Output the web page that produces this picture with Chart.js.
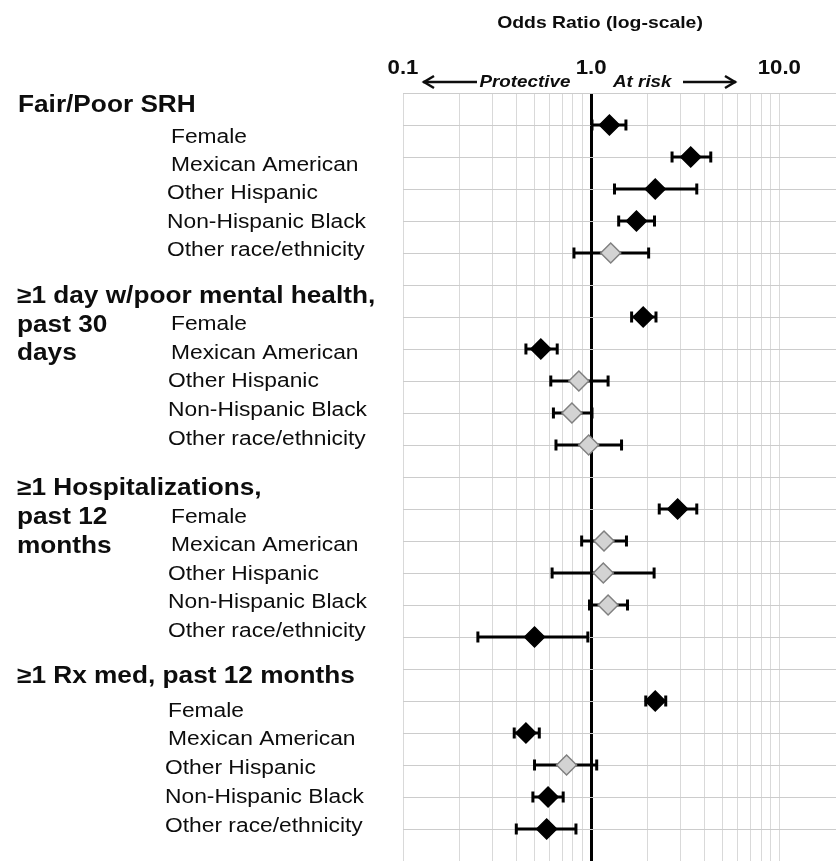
<!DOCTYPE html>
<html>
<head>
<meta charset="utf-8">
<script src="https://cdn.jsdelivr.net/npm/chart.js@4.4.1/dist/chart.umd.min.js"></script>
<style>
  html, body { margin: 0; padding: 0; background: #ffffff; }
  canvas { display: block; }
</style>
</head>
<body>
<canvas id="forest" width="836" height="861"></canvas>
<script>
// Outcomes (group headings, possibly split over several lines)
const groupTitles = [
  ["Fair/Poor SRH"],
  ["≥1 day w/poor mental health,", "past 30", "days"],
  ["≥1 Hospitalizations,", "past 12", "months"],
  ["≥1 Rx med, past 12 months"]
];
// Covariates shown under every outcome
const subgroups = ["Female", "Mexican American", "Other Hispanic", "Non-Hispanic Black", "Other race/ethnicity"];

// Odds ratios and 95% confidence limits, outcome by outcome
const oddsRatio = [1.25, 3.38, 2.19, 1.74, 1.27,
                   1.89, 0.54, 0.86, 0.79, 0.97,
                   2.88, 1.17, 1.16, 1.23, 0.50,
                   2.19, 0.45, 0.74, 0.59, 0.58];
const ciLow     = [1.01, 2.69, 1.33, 1.40, 0.81,
                   1.64, 0.45, 0.61, 0.63, 0.65,
                   2.30, 0.89, 0.62, 0.98, 0.25,
                   1.95, 0.39, 0.50, 0.49, 0.40];
const ciHigh    = [1.53, 4.32, 3.64, 2.17, 2.02,
                   2.21, 0.66, 1.23, 1.01, 1.45,
                   3.64, 1.54, 2.16, 1.56, 0.96,
                   2.49, 0.53, 1.07, 0.71, 0.83];

// Labelled ticks of the log axis
const tickValues = [0.1, 1, 10];
const tickLabels = ["0.1", "1.0", "10.0"];

// ---- layout of the drawing (not data) ----
const FONT = "'Liberation Sans', Arial, sans-serif";
const SX = 1.14;                 // horizontal text stretch
const ROWS_PER_GROUP = subgroups.length + 1;
const headerLayout = [
  { x: 18, baselines: [112] },
  { x: 17, baselines: [303, 332, 360] },
  { x: 17, baselines: [495, 523.5, 553] },
  { x: 17, baselines: [683] }
];
const subLayout = [
  { firstBaseline: 142.5, step: 28.4, xs: [171, 171, 167, 167, 167] },
  { firstBaseline: 330,   step: 28.7, xs: [171, 171, 168, 168, 168] },
  { firstBaseline: 523,   step: 28.4, xs: [171, 171, 168, 168, 168] },
  { firstBaseline: 716.5, step: 28.9, xs: [168, 168, 165, 165, 165] }
];

// row position of every estimate on the y axis (a blank row precedes each outcome)
const rowOf = i => Math.floor(i / subgroups.length) * ROWS_PER_GROUP + (i % subgroups.length) + 1;
const significant = i => !(ciLow[i] <= 1 && ciHigh[i] >= 1);

function stretchedText(ctx, s, x, y, font, align) {
  ctx.save();
  ctx.font = font;
  ctx.textAlign = align || 'left';
  ctx.textBaseline = 'alphabetic';
  ctx.fillStyle = '#0d0d0d';
  ctx.translate(x, y);
  ctx.scale(SX, 1);
  ctx.fillText(s, 0, 0);
  ctx.restore();
}

function arrow(ctx, x1, x2, y, headAtStart) {
  ctx.save();
  ctx.strokeStyle = '#0d0d0d';
  ctx.lineWidth = 2.5;
  ctx.lineCap = 'butt';
  ctx.beginPath();
  ctx.moveTo(x1, y);
  ctx.lineTo(x2, y);
  ctx.stroke();
  const tip = headAtStart ? x1 : x2;
  const dir = headAtStart ? 1 : -1;
  ctx.beginPath();
  ctx.moveTo(tip + dir * 11, y - 6);
  ctx.lineTo(tip + dir * 1, y);
  ctx.lineTo(tip + dir * 11, y + 6);
  ctx.stroke();
  ctx.restore();
}

const annotations = {
  id: 'forestText',
  afterDraw(chart) {
    const ctx = chart.ctx;
    const xs = chart.scales.x;

    // axis title and labelled ticks
    stretchedText(ctx, 'Odds Ratio (log-scale)', 600, 28, `bold 17px ${FONT}`, 'center');
    tickValues.forEach((v, i) => {
      stretchedText(ctx, tickLabels[i], xs.getPixelForValue(v), 74, `bold 19.5px ${FONT}`, 'center');
    });

    // direction hints
    arrow(ctx, 423, 477, 82, true);
    stretchedText(ctx, 'Protective', 479.5, 87, `italic bold 16.5px ${FONT}`, 'left');
    stretchedText(ctx, 'At risk', 613, 87, `italic bold 16.5px ${FONT}`, 'left');
    arrow(ctx, 683, 736, 82, false);

    // outcome headings and covariate names
    groupTitles.forEach((lines, g) => {
      const hl = headerLayout[g];
      lines.forEach((line, j) => {
        stretchedText(ctx, line, hl.x, hl.baselines[j], `bold 23px ${FONT}`, 'left');
      });
      const sl = subLayout[g];
      subgroups.forEach((name, k) => {
        stretchedText(ctx, name, sl.xs[k], sl.firstBaseline + k * sl.step, `20px ${FONT}`, 'left');
      });
    });
  }
};

// horizontal confidence-interval bars with end caps
const ciDatasets = oddsRatio.map((_, i) => ({
  type: 'line',
  data: [{ x: ciLow[i], y: rowOf(i) }, { x: ciHigh[i], y: rowOf(i) }],
  borderColor: '#000000',
  borderWidth: 3,
  tension: 0,
  pointStyle: 'line',
  pointRotation: 90,
  pointRadius: 5.5,
  pointBorderWidth: 3,
  pointBorderColor: '#000000',
  order: 2
}));

const pointDataset = {
  type: 'scatter',
  data: oddsRatio.map((v, i) => ({ x: v, y: rowOf(i) })),
  pointStyle: 'rectRot',
  pointRadius: 10,
  backgroundColor: oddsRatio.map((_, i) => significant(i) ? '#000000' : '#d3d3d3'),
  borderColor: oddsRatio.map((_, i) => significant(i) ? '#000000' : '#808080'),
  borderWidth: 1.5,
  order: 1
};

const nRows = groupTitles.length * ROWS_PER_GROUP;

new Chart(document.getElementById('forest'), {
  data: { datasets: [pointDataset, ...ciDatasets] },
  plugins: [annotations],
  options: {
    responsive: false,
    animation: false,
    events: [],
    layout: { autoPadding: false, padding: { left: 403, top: 93, right: 0, bottom: 0 } },
    plugins: { legend: { display: false }, tooltip: { enabled: false } },
    scales: {
      x: {
        type: 'logarithmic',
        position: 'top',
        min: 0.1,
        max: 20,
        afterBuildTicks(scale) {
          const t = [];
          [0.1, 1, 10].forEach(d => { for (let m = 1; m <= 9; m++) if (d * m <= 20) t.push({ value: +(d * m).toPrecision(3) }); });
          t.push({ value: 20 });
          scale.ticks = t;
        },
        ticks: { display: false },
        border: { display: false },
        grid: {
          drawTicks: false,
          color: c => c.tick && c.tick.value === 1 ? '#000000' : (c.tick && c.tick.value === 20 ? 'rgba(0,0,0,0)' : '#d9d9d9'),
          lineWidth: c => c.tick && c.tick.value === 1 ? 3 : 1
        }
      },
      y: {
        type: 'linear',
        reverse: true,
        min: 0,
        max: nRows,
        afterBuildTicks(scale) {
          const t = [];
          for (let r = 0; r <= nRows; r++) t.push({ value: r });
          scale.ticks = t;
        },
        ticks: { display: false },
        border: { display: false },
        grid: { drawTicks: false, color: '#cccccc', lineWidth: 1 }
      }
    }
  }
});
</script>
</body>
</html>
